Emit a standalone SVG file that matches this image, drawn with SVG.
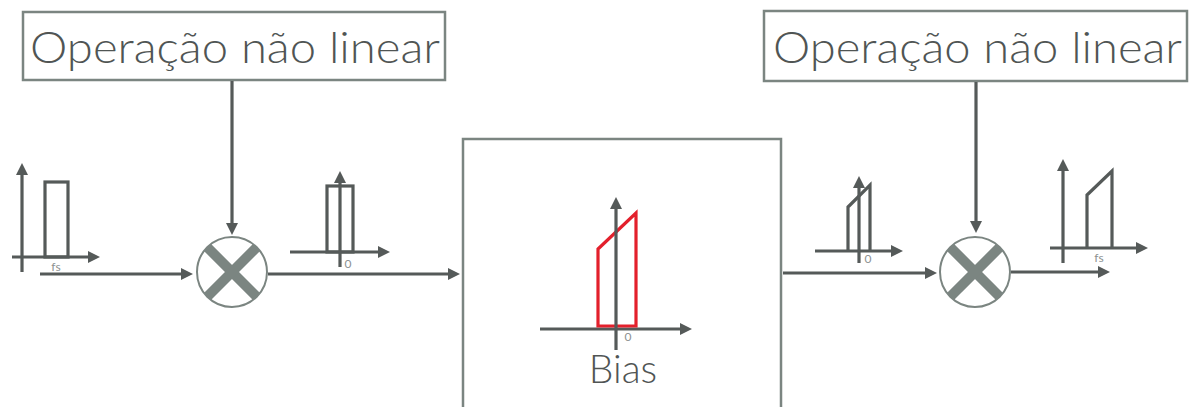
<svg xmlns="http://www.w3.org/2000/svg" width="1191" height="407" viewBox="0 0 1191 407">
<style>
.box{fill:#fff;stroke:#7b8581;stroke-width:2.5}
.big{font-family:Lato,"Open Sans","Liberation Sans",sans-serif;font-weight:300;fill:#505554}
.ax{stroke:#555a59;stroke-width:3.2;fill:none}
.sp{stroke:#555a59;stroke-width:3.2;fill:none}
.red{stroke:#e3202c;stroke-width:3.2;fill:none}
.lbl{font-family:Lato,"Open Sans","Liberation Sans",sans-serif;font-size:12px;fill:#8d9291}
.mcirc{fill:#fff;stroke:#7b8581;stroke-width:2}
.mx{stroke:#7b8581;stroke-width:10}
</style>
<defs>
<marker id="ah" viewBox="0 0 12 12" refX="6" refY="6" markerWidth="12" markerHeight="12" markerUnits="userSpaceOnUse" orient="auto">
<path d="M0,0 L12,6 L0,12 z" fill="#555a59"/>
</marker>
<clipPath id="c1"><circle cx="232" cy="272" r="35"/></clipPath>
<clipPath id="c2"><circle cx="975" cy="272" r="35"/></clipPath>
</defs>

<g id="op1">
<rect class="box" x="23" y="12" width="422" height="68"/>
<text class="big" x="30" y="63" font-size="44" textLength="410" lengthAdjust="spacingAndGlyphs">Operação não linear</text>
</g>
<g id="op2">
<rect class="box" x="764" y="11" width="423" height="70"/>
<text class="big" x="773" y="63" font-size="44" textLength="409" lengthAdjust="spacingAndGlyphs">Operação não linear</text>
</g>

<g id="input-spectrum">
<line class="ax" x1="22" y1="272" x2="22" y2="169" marker-end="url(#ah)"/>
<line class="ax" x1="12" y1="257" x2="94" y2="257" marker-end="url(#ah)"/>
<rect class="sp" x="45" y="182" width="23" height="75"/>
<text class="lbl" x="56" y="271" text-anchor="middle">fs</text>
</g>

<g id="mult1">
<circle class="mcirc" cx="232" cy="272" r="35"/>
<g clip-path="url(#c1)">
<line class="mx" x1="207" y1="247" x2="257" y2="297"/>
<line class="mx" x1="257" y1="247" x2="207" y2="297"/>
</g>
</g>

<g id="baseband-spectrum">
<rect class="sp" x="327" y="186" width="26" height="66"/>
<line class="ax" x1="340" y1="267" x2="340" y2="177" marker-end="url(#ah)"/>
<line class="ax" x1="290" y1="252" x2="384" y2="252" marker-end="url(#ah)"/>
<text class="lbl" x="348" y="268" text-anchor="middle">0</text>
</g>

<g id="bias-block">
<rect class="box" x="463" y="139" width="318" height="280"/>
<line class="ax" x1="540" y1="329" x2="686" y2="329" marker-end="url(#ah)"/>
<polygon class="red" points="598,326 598,249 636,213 636,326"/>
<line class="ax" x1="616" y1="350" x2="616" y2="203" marker-end="url(#ah)"/>
<text class="lbl" x="628" y="341" text-anchor="middle" font-size="10">0</text>
<text class="big" x="623" y="383" font-size="39" text-anchor="middle">Bias</text>
</g>

<g id="biased-spectrum">
<polyline class="sp" points="848,251 848,207 870,185 870,251"/>
<line class="ax" x1="815" y1="251" x2="897" y2="251" marker-end="url(#ah)"/>
<line class="ax" x1="859" y1="263" x2="859" y2="182" marker-end="url(#ah)"/>
<text class="lbl" x="868" y="263" text-anchor="middle">0</text>
</g>

<g id="mult2">
<circle class="mcirc" cx="975" cy="272" r="35"/>
<g clip-path="url(#c2)">
<line class="mx" x1="950" y1="247" x2="1000" y2="297"/>
<line class="mx" x1="1000" y1="247" x2="950" y2="297"/>
</g>
</g>

<g id="output-spectrum">
<line class="ax" x1="1063" y1="263" x2="1063" y2="165" marker-end="url(#ah)"/>
<line class="ax" x1="1050" y1="248" x2="1142" y2="248" marker-end="url(#ah)"/>
<polyline class="sp" points="1087,248 1087,195 1112,171 1112,248"/>
<text class="lbl" x="1099" y="262" text-anchor="middle">fs</text>
</g>

<g id="connectors">
<line class="ax" x1="232" y1="81" x2="232" y2="229" marker-end="url(#ah)"/>
<line class="ax" x1="40" y1="274" x2="187" y2="274" marker-end="url(#ah)"/>
<line class="ax" x1="268" y1="274" x2="454" y2="274" marker-end="url(#ah)"/>
<line class="ax" x1="783" y1="273" x2="931" y2="273" marker-end="url(#ah)"/>
<line class="ax" x1="976" y1="82" x2="976" y2="227" marker-end="url(#ah)"/>
<line class="ax" x1="1011" y1="272" x2="1104" y2="272" marker-end="url(#ah)"/>
</g>
</svg>
